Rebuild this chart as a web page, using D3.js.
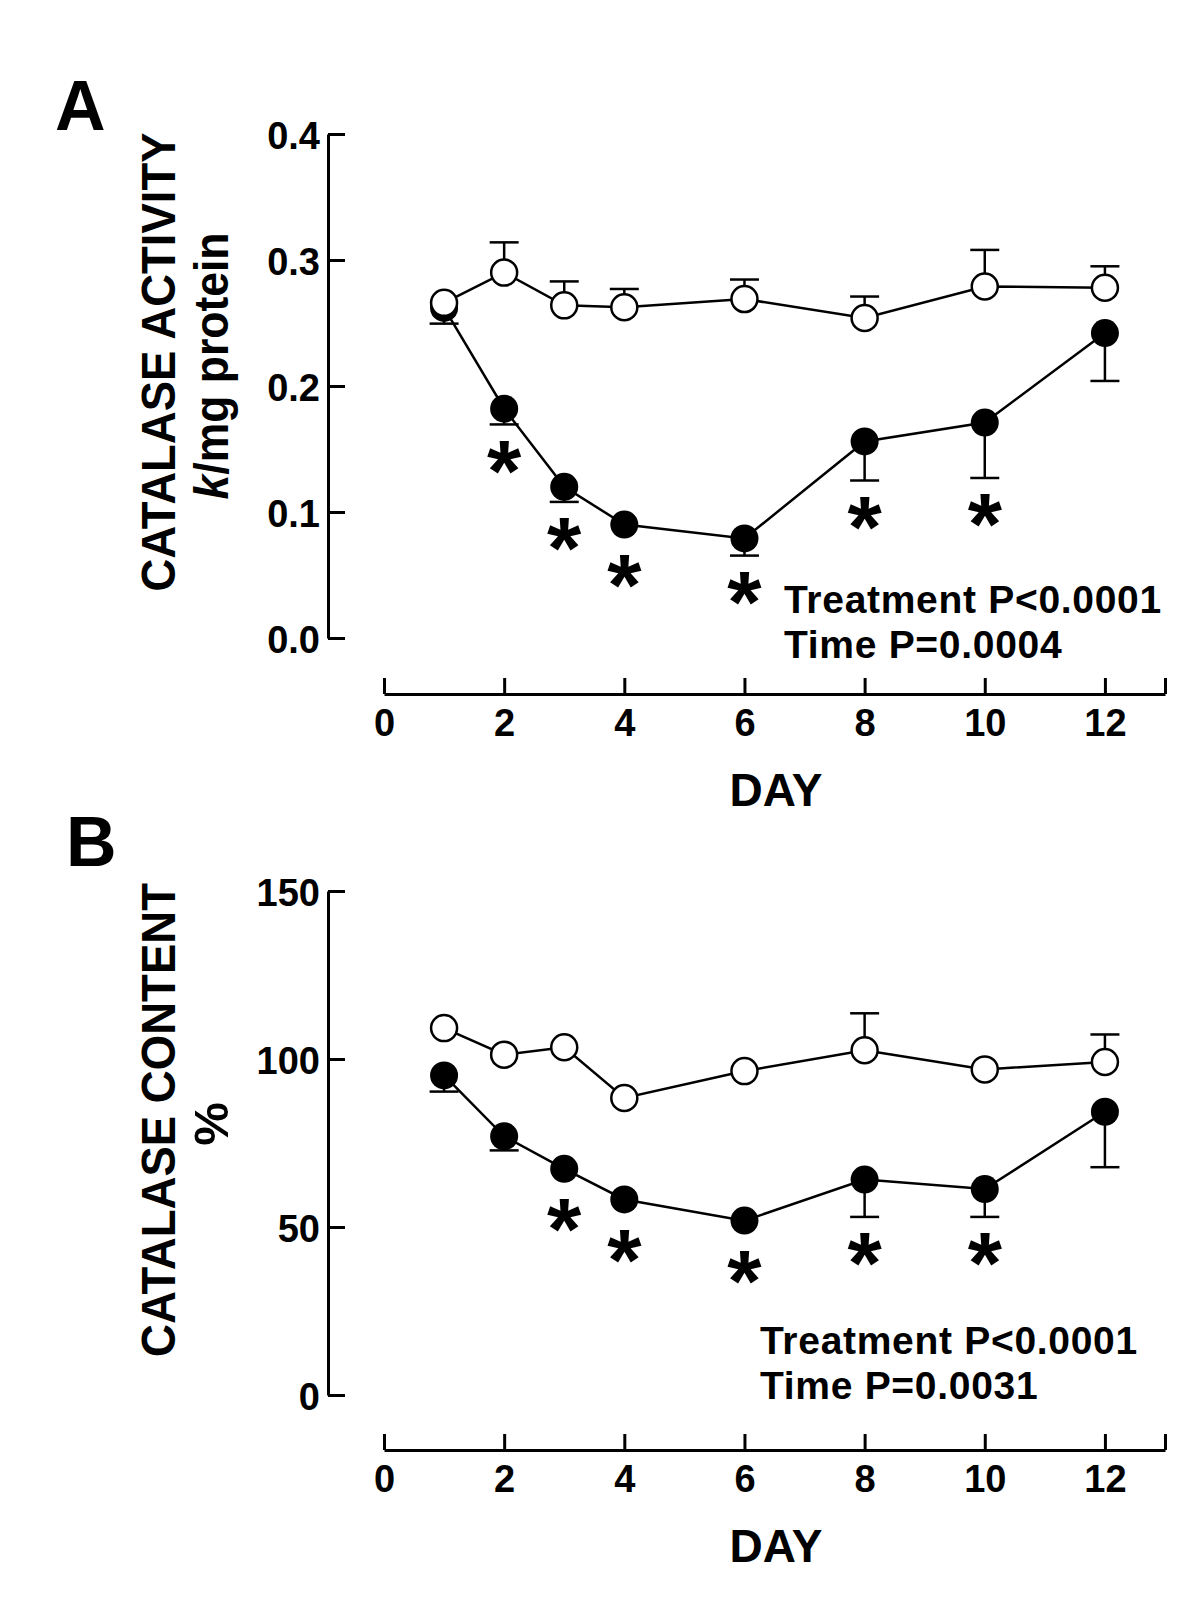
<!DOCTYPE html>
<html>
<head>
<meta charset="utf-8">
<script src="https://cdn.jsdelivr.net/npm/d3@7"></script>
<style>
  html, body { margin: 0; padding: 0; background: #fff; }
  svg { display: block; }
  text { font-family: "Liberation Sans", Arial, Helvetica, sans-serif; font-weight: bold; fill: #000; }
</style>
</head>
<body>
<svg id="chart" width="1200" height="1600"></svg>
<script>
// ---------- DATA ----------
const days = [1, 2, 3, 4, 6, 8, 10, 12];
const xTickValues = [0, 2, 4, 6, 8, 10, 12, 13];

// Panel A: catalase activity (k/mg protein)
const activityControl    = [0.266, 0.290, 0.264, 0.2625, 0.269, 0.254, 0.279, 0.278];
const activityControlSem = [null, 0.024, 0.019, 0.0145, 0.0155, 0.017, 0.029, 0.017];
const activityTreated    = [0.262, 0.182, 0.120, 0.090, 0.079, 0.156, 0.171, 0.242];
const activityTreatedSem = [0.0125, 0.0125, 0.012, null, 0.0136, 0.031, 0.044, 0.038];
const activitySignif     = [false, true, true, true, true, true, true, false];
const activityTicks      = [0, 0.1, 0.2, 0.3, 0.4];

// Panel B: catalase content (%)
const contentControl    = [109.2, 101.3, 103.5, 88.4, 96.4, 102.6, 96.9, 99.1];
const contentControlSem = [null, null, null, null, null, 11.0, null, 8.2];
const contentTreated    = [95.1, 77.0, 67.3, 58.2, 51.9, 64.1, 61.3, 84.3];
const contentTreatedSem = [4.8, 4.2, null, null, null, 11.1, 8.3, 16.5];
const contentSignif     = [false, false, true, true, true, true, true, false];
const contentTicks      = [0, 50, 100, 150];

// ---------- DRAWING ----------
const svg = d3.select("#chart");
const x = d3.scaleLinear().domain([0, 13]).range([384, 1165]);
const R = 13;

function drawPanel(cfg) {
  const g = svg.append("g");
  const y = d3.scaleLinear().domain(cfg.domain).range(cfg.range);

  // panel letter
  g.append("text").attr("x", cfg.letterX).attr("y", cfg.letterY)
    .style("font-size", "70px").text(cfg.letter);

  // y axis
  const yAxis = d3.axisLeft(y).tickValues(cfg.ticks).tickFormat(cfg.fmt)
    .tickSizeInner(-17).tickSizeOuter(0).tickPadding(8);
  const ya = g.append("g").attr("transform", "translate(328,0)").call(yAxis);
  ya.select(".domain").attr("stroke", "#000").attr("stroke-width", 3);
  ya.selectAll(".tick line").attr("stroke", "#000").attr("stroke-width", 3);
  ya.selectAll(".tick text").attr("dy", "0.39em")
    .style("font-size", "38px").style("font-family", "'Liberation Sans', Arial, sans-serif").style("font-weight", "bold").attr("fill", "#000");

  // x axis
  const xAxis = d3.axisBottom(x).tickValues(xTickValues)
    .tickFormat(d => d === 13 ? "" : d)
    .tickSizeInner(-16).tickSizeOuter(0).tickPadding(15);
  const xa = g.append("g").attr("transform", `translate(0,${cfg.xAxisY})`).call(xAxis);
  xa.select(".domain").attr("stroke", "#000").attr("stroke-width", 3);
  xa.selectAll(".tick line").attr("stroke", "#000").attr("stroke-width", 3);
  xa.selectAll(".tick text")
    .style("font-size", "38px").style("font-family", "'Liberation Sans', Arial, sans-serif").style("font-weight", "bold").attr("fill", "#000");

  // x title
  g.append("text").attr("x", 776).attr("y", cfg.xAxisY + 112)
    .attr("text-anchor", "middle").style("font-size", "46px").text("DAY");

  // y titles
  g.append("text")
    .attr("transform", `translate(175,${cfg.titleY}) rotate(-90)`)
    .attr("text-anchor", "middle").style("font-size", "49px")
    .attr("textLength", cfg.title1Len).attr("lengthAdjust", "spacingAndGlyphs")
    .text(cfg.title1);
  const t2 = g.append("text")
    .attr("transform", `translate(228,${cfg.titleY + 4}) rotate(-90)`)
    .attr("text-anchor", "middle").style("font-size", "49px");
  cfg.title2.forEach(p => {
    t2.append("tspan").style("font-style", p.italic ? "italic" : "normal").text(p.t);
  });
  if (cfg.title2Len) t2.attr("textLength", cfg.title2Len).attr("lengthAdjust", "spacingAndGlyphs");

  const treated = days.map((d, i) => ({ day: d, v: cfg.treated[i], sem: cfg.treatedSem[i], sig: cfg.signif[i] }));
  const control = days.map((d, i) => ({ day: d, v: cfg.control[i], sem: cfg.controlSem[i] }));
  const line = d3.line().x(d => x(d.day)).y(d => y(d.v));

  // treated series (filled), error bars downward
  g.append("path").datum(treated).attr("d", line)
    .attr("fill", "none").attr("stroke", "#000").attr("stroke-width", 2.5);
  const te = g.append("g").selectAll("g").data(treated.filter(d => d.sem != null)).join("g");
  te.append("line").attr("x1", d => x(d.day)).attr("x2", d => x(d.day))
    .attr("y1", d => y(d.v)).attr("y2", d => y(d.v - d.sem))
    .attr("stroke", "#000").attr("stroke-width", 2.5);
  te.append("line").attr("x1", d => x(d.day) - 14.5).attr("x2", d => x(d.day) + 14.5)
    .attr("y1", d => y(d.v - d.sem)).attr("y2", d => y(d.v - d.sem))
    .attr("stroke", "#000").attr("stroke-width", 2.5);
  g.append("g").selectAll("circle").data(treated).join("circle")
    .attr("cx", d => x(d.day)).attr("cy", d => y(d.v)).attr("r", R + 1)
    .attr("fill", "#000");

  // asterisks
  g.append("g").selectAll("text").data(treated.filter(d => d.sig)).join("text")
    .attr("x", d => x(d.day))
    .attr("y", d => {
      const yc = Math.max(d.sem != null ? y(d.v - d.sem) + 27 : -1e9, y(d.v) + 41);
      return yc + 0.56 * 88;
    })
    .attr("text-anchor", "middle").style("font-size", "88px").text("*");

  // control series (open), error bars upward
  g.append("path").datum(control).attr("d", line)
    .attr("fill", "none").attr("stroke", "#000").attr("stroke-width", 2.5);
  const ce = g.append("g").selectAll("g").data(control.filter(d => d.sem != null)).join("g");
  ce.append("line").attr("x1", d => x(d.day)).attr("x2", d => x(d.day))
    .attr("y1", d => y(d.v)).attr("y2", d => y(d.v + d.sem))
    .attr("stroke", "#000").attr("stroke-width", 2.5);
  ce.append("line").attr("x1", d => x(d.day) - 14.5).attr("x2", d => x(d.day) + 14.5)
    .attr("y1", d => y(d.v + d.sem)).attr("y2", d => y(d.v + d.sem))
    .attr("stroke", "#000").attr("stroke-width", 2.5);
  g.append("g").selectAll("circle").data(control).join("circle")
    .attr("cx", d => x(d.day)).attr("cy", d => y(d.v)).attr("r", R)
    .attr("fill", "#fff").attr("stroke", "#000").attr("stroke-width", 2.5);

  // statistics annotation
  g.append("text").attr("x", cfg.annX).attr("y", cfg.annY)
    .style("font-size", "39px").style("letter-spacing", "0.7px").text(cfg.ann1);
  g.append("text").attr("x", cfg.annX).attr("y", cfg.annY + 45)
    .style("font-size", "39px").style("letter-spacing", "0.7px").text(cfg.ann2);
}

drawPanel({
  letter: "A", letterX: 55, letterY: 130,
  domain: [0, 0.4], range: [638, 134], ticks: activityTicks, fmt: d3.format(".1f"),
  xAxisY: 694, titleY: 362,
  title1: "CATALASE ACTIVITY", title1Len: 459,
  title2: [{ t: "k", italic: true }, { t: "/mg protein", italic: false }], title2Len: 267,
  control: activityControl, controlSem: activityControlSem,
  treated: activityTreated, treatedSem: activityTreatedSem, signif: activitySignif,
  annX: 784, annY: 613, ann1: "Treatment P<0.0001", ann2: "Time P=0.0004"
});

drawPanel({
  letter: "B", letterX: 66, letterY: 866,
  domain: [0, 150], range: [1395, 891], ticks: contentTicks, fmt: d3.format("d"),
  xAxisY: 1450, titleY: 1120,
  title1: "CATALASE CONTENT", title1Len: 474,
  title2: [{ t: "%", italic: false }], title2Len: null,
  control: contentControl, controlSem: contentControlSem,
  treated: contentTreated, treatedSem: contentTreatedSem, signif: contentSignif,
  annX: 760, annY: 1354, ann1: "Treatment P<0.0001", ann2: "Time P=0.0031"
});
</script>
</body>
</html>
